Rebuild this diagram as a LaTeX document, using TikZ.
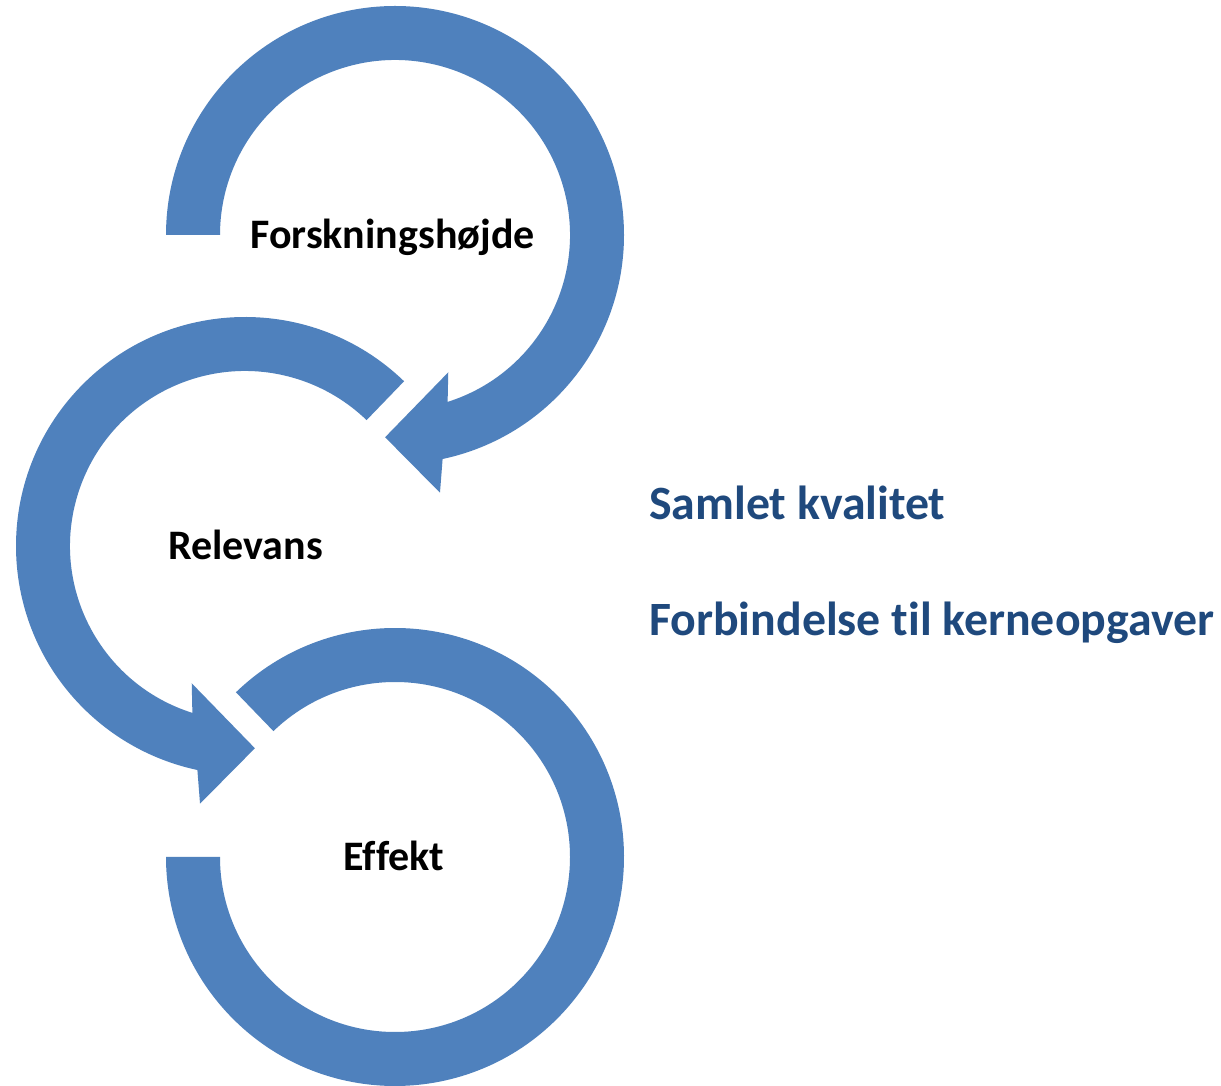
\documentclass[tikz,border=0pt]{standalone}
\usepackage{fontspec}
\setmainfont{Carlito}[Ligatures=NoCommon]
\definecolor{ringblue}{HTML}{4F81BD}
\definecolor{textblue}{HTML}{1F497D}
\begin{document}
\begin{tikzpicture}[x=1pt,y=1pt,
  ring/.style={fill=ringblue,draw=none},
  lbl/.style={inner sep=0pt,anchor=base,font=\fontsize{42}{50}\selectfont\bfseries,text=black},
  side/.style={inner sep=0pt,anchor=base west,font=\fontsize{47.8}{57}\selectfont\bfseries,text=textblue}]
\useasboundingbox (0,0) rectangle (1221,1085);
\fill[white] (0,0) rectangle (1221,1085);
\coordinate (c1) at (395,850);
\coordinate (c2) at (245,539);
\coordinate (c3) at (395,228);
% ring 1
\begin{scope}[shift={(c1)}]
\path[ring] (180:229) arc[start angle=180,end angle=-78,radius=229]
  -- (-80.1:261.6) -- (-92.8:202.5) -- (-68.8:147.3) -- (-72.5:175)
  arc[start angle=-72.5,end angle=180,radius=175] -- cycle;
\end{scope}
% ring 2
\begin{scope}[shift={(c2)}]
\path[ring] (46:229) arc[start angle=46,end angle=258,radius=229]
  -- (260.1:261.6) -- (272.8:202.5) -- (248.8:147.3) -- (252.5:175)
  arc[start angle=252.5,end angle=46,radius=175] -- cycle;
\end{scope}
% ring 3
\begin{scope}[shift={(c3)}]
\path[ring] (134:229) arc[start angle=134,end angle=-180,radius=229]
  -- (180:175) arc[start angle=-180,end angle=134,radius=175] -- cycle;
\end{scope}
\node[lbl] (t1) at (392.5,836) {Forskningshøjde};
\node[lbl] (t2) at (245.5,525.7) {Relevans};
\node[lbl] (t3) at (394,214.3) {Effekt};
\node[side] (s1) at (649,565) {Samlet kvalitet};
\node[side] (s2) at (649,449.3) {Forbindelse til kerneopgaver};
\end{tikzpicture}
\end{document}
